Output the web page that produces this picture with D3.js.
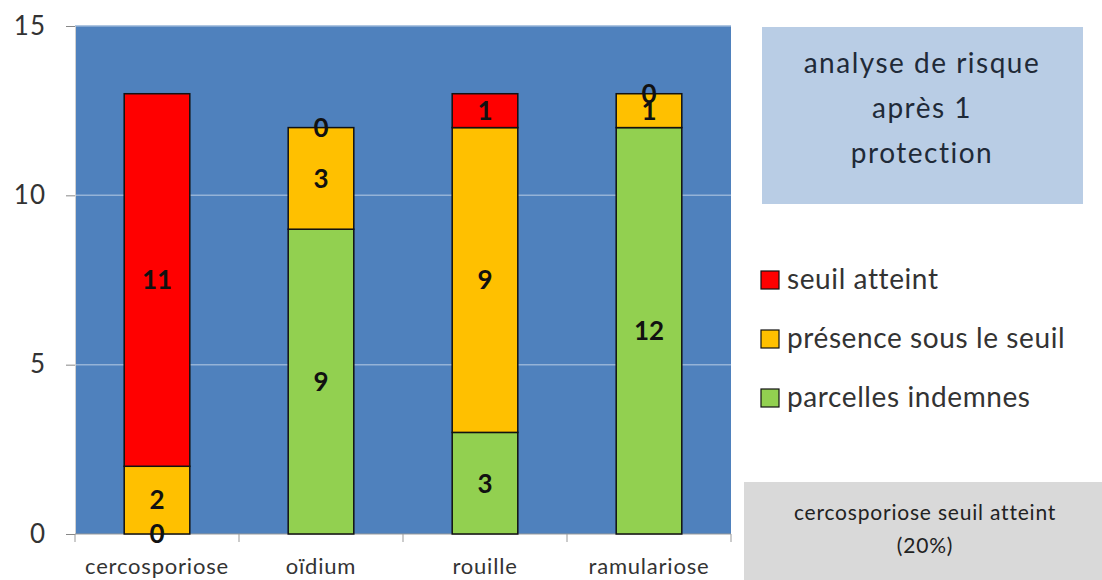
<!DOCTYPE html>
<html lang="fr">
<head>
<meta charset="UTF-8">
<title>analyse de risque</title>
<script src="https://d3js.org/d3.v7.min.js"></script>
<style>
    body { margin: 0; background: #fff; font-family: Lato, "Open Sans", sans-serif; }
    svg { display: block; }
</style>
</head>
<body>
<div id="container"></div>
<script>
    // data
    const categories = ['cercosporiose', 'oïdium', 'rouille', 'ramulariose'];
    const indemnes = [0, 9, 3, 12];      // parcelles indemnes
    const sousSeuil = [2, 3, 9, 1];      // présence sous le seuil
    const seuilAtteint = [11, 0, 1, 0];  // seuil atteint
    const seriesNames = ['parcelles indemnes', 'présence sous le seuil', 'seuil atteint'];
    const yTicks = [0, 5, 10, 15];
    const titleLines = ['analyse de risque', 'après 1', 'protection'];
    const noteLines = ['cercosporiose seuil atteint', '(20%)'];

    const colors = ['#92d050', '#ffc000', '#ff0000'];

    const width = 1102, height = 580;
    const plotLeft = 75, plotRight = 731, plotTop = 26, plotBottom = 534;

    const svg = d3.select('#container').append('svg')
        .attr('width', width)
        .attr('height', height);

    const x = d3.scaleBand()
        .domain(categories)
        .range([plotLeft, plotRight])
        .paddingInner(0.6)
        .paddingOuter(0.3);

    const y = d3.scaleLinear()
        .domain([0, 15])
        .range([plotBottom, plotTop]);

    // plot background
    svg.append('rect')
        .attr('x', plotLeft).attr('y', plotTop)
        .attr('width', plotRight - plotLeft).attr('height', plotBottom - plotTop)
        .attr('fill', '#4f81bd');

    // gridlines
    svg.selectAll('.grid')
        .data(yTicks.filter(d => d > 0))
        .enter()
        .append('line')
        .attr('x1', plotLeft).attr('x2', plotRight)
        .attr('y1', d => y(d)).attr('y2', d => y(d))
        .attr('stroke', '#95b3d7')
        .attr('stroke-width', 1.5);

    // y axis
    const yAxis = svg.append('g')
        .attr('transform', `translate(${plotLeft},0)`)
        .call(d3.axisLeft(y).tickValues(yTicks).tickSize(9).tickPadding(20));
    yAxis.select('.domain').attr('stroke', '#d0d0d0');
    yAxis.selectAll('.tick line').attr('stroke', '#888');
    yAxis.selectAll('text')
        .attr('font-size', 26)
        .attr('font-family', 'Lato, sans-serif')
        .attr('letter-spacing', 1)
        .attr('fill', '#333');

    // x axis (ticks at band boundaries)
    svg.append('line')
        .attr('x1', plotLeft).attr('x2', plotRight)
        .attr('y1', plotBottom).attr('y2', plotBottom)
        .attr('stroke', '#999');
    const bounds = d3.range(categories.length + 1).map(i => plotLeft + i * x.step());
    svg.selectAll('.xtick')
        .data(bounds)
        .enter()
        .append('line')
        .attr('x1', d => d).attr('x2', d => d)
        .attr('y1', plotBottom).attr('y2', plotBottom + 8)
        .attr('stroke', '#999');

    svg.selectAll('.xlabel')
        .data(categories)
        .enter()
        .append('text')
        .attr('x', d => x(d) + x.bandwidth() / 2)
        .attr('y', 574)
        .attr('text-anchor', 'middle')
        .attr('font-size', 22)
        .attr('letter-spacing', 0.8)
        .attr('fill', '#333')
        .text(d => d);

    // stacked bars
    const rows = categories.map((c, i) => ({
        cat: c,
        'parcelles indemnes': indemnes[i],
        'présence sous le seuil': sousSeuil[i],
        'seuil atteint': seuilAtteint[i]
    }));
    const stacked = d3.stack().keys(seriesNames)(rows);

    stacked.forEach((layer, li) => {
        svg.append('g').selectAll('rect')
            .data(layer.filter(d => d[1] > d[0]))
            .enter()
            .append('rect')
            .attr('x', d => x(d.data.cat))
            .attr('y', d => y(d[1]))
            .attr('width', x.bandwidth())
            .attr('height', d => y(d[0]) - y(d[1]))
            .attr('fill', colors[li])
            .attr('stroke', '#111')
            .attr('stroke-width', 1.5);
    });

    // value labels
    stacked.forEach(layer => {
        svg.append('g').selectAll('text')
            .data(layer)
            .enter()
            .append('text')
            .attr('x', d => x(d.data.cat) + x.bandwidth() / 2)
            .attr('y', d => y((d[0] + d[1]) / 2))
            .attr('dy', '0.36em')
            .attr('text-anchor', 'middle')
            .attr('font-size', 26)
            .attr('font-weight', 'bold')
            .attr('fill', '#111')
            .text(d => d[1] - d[0]);
    });

    // title box
    svg.append('rect')
        .attr('x', 762).attr('y', 27)
        .attr('width', 321).attr('height', 177)
        .attr('fill', '#b9cde5');
    svg.selectAll('.title')
        .data(titleLines)
        .enter()
        .append('text')
        .attr('x', 922)
        .attr('y', (d, i) => 73 + i * 45)
        .attr('text-anchor', 'middle')
        .attr('font-size', 28)
        .attr('letter-spacing', 1.5)
        .attr('fill', '#1f2a38')
        .text(d => d);

    // legend
    const legendItems = seriesNames.slice().reverse();
    const legendColors = colors.slice().reverse();
    const legend = svg.selectAll('.legend')
        .data(legendItems)
        .enter()
        .append('g')
        .attr('transform', (d, i) => `translate(761, ${280 + i * 59})`);
    legend.append('rect')
        .attr('x', 0).attr('y', -9)
        .attr('width', 18).attr('height', 18)
        .attr('fill', (d, i) => legendColors[i])
        .attr('stroke', '#111')
        .attr('stroke-width', 1.2);
    legend.append('text')
        .attr('x', 26)
        .attr('y', 0)
        .attr('dy', '0.33em')
        .attr('font-size', 28)
        .attr('letter-spacing', 0.6)
        .attr('fill', '#333')
        .text(d => d);

    // note box
    svg.append('rect')
        .attr('x', 744).attr('y', 482)
        .attr('width', 358).attr('height', 98)
        .attr('fill', '#d9d9d9');
    svg.selectAll('.note')
        .data(noteLines)
        .enter()
        .append('text')
        .attr('x', 925)
        .attr('y', (d, i) => 520 + i * 33)
        .attr('text-anchor', 'middle')
        .attr('font-size', 21)
        .attr('letter-spacing', 0.8)
        .attr('fill', '#222')
        .text(d => d);
</script>
</body>
</html>
